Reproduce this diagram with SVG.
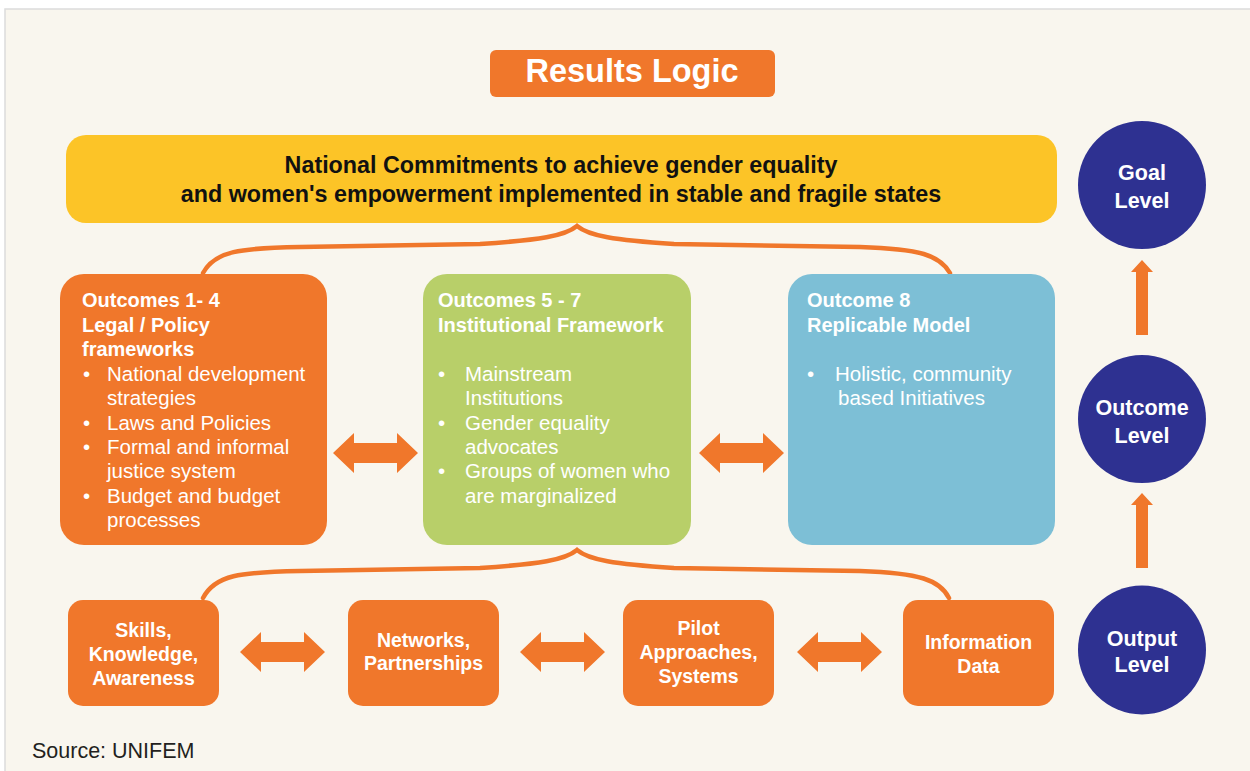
<svg xmlns="http://www.w3.org/2000/svg" width="1250" height="771" viewBox="0 0 1250 771">
<defs>
<style>
.bg{fill:#f9f6ee;stroke:#dcdcdc;stroke-width:1.5}
.org{fill:#f0772b}
.grn{fill:#b8cf69}
.blu{fill:#7dbfd6}
.yel{fill:#fcc427}
.navy{fill:#2e3191}
.t{font-family:"Liberation Sans",Arial,sans-serif;fill:#fff}
.b{font-weight:bold}
.hd{font-size:20px;font-weight:bold}
.bd{font-size:20.5px}
.sm{font-size:19.5px;font-weight:bold;text-anchor:middle}
.cir{font-size:21.5px;font-weight:bold;text-anchor:middle}
.brace{fill:none;stroke:#f0772b;stroke-width:4.5;stroke-linecap:round}
.arr{fill:#f0772b}
</style>
<path id="dbl" d="M0 0 L21 -20 L21 -10 L64 -10 L64 -20 L85 0 L64 20 L64 10 L21 10 L21 20 Z"/>
<path id="up" d="M0 0 L11 12 L6 12 L6 75 L-6 75 L-6 12 L-11 12 Z"/>
</defs>
<rect class="bg" x="5" y="9" width="1250" height="770"/>

<g id="title">
<rect class="org" x="490" y="50" width="285" height="47" rx="6"/>
<text class="t b" x="632" y="82" font-size="32.5" text-anchor="middle">Results Logic</text>
</g>

<g id="goal-box">
<rect class="yel" x="66" y="135" width="991" height="88" rx="20"/>
<text x="561" y="173" font-family="Liberation Sans,Arial,sans-serif" font-weight="bold" font-size="23.3" fill="#111" text-anchor="middle">National Commitments to achieve gender equality</text>
<text x="561" y="202" font-family="Liberation Sans,Arial,sans-serif" font-weight="bold" font-size="23.3" fill="#111" text-anchor="middle">and women's empowerment implemented in stable and fragile states</text>
</g>

<g id="connectors">
<path class="brace" d="M203 273 C215 251 240 248 300 247 L480 244 C540 240 565 236 577 226 C589 236 614 240 674 244 L860 247 C920 249 940 255 950 273"/>
<path class="brace" d="M203 598 C215 575 240 572 300 571 L480 568 C540 564 565 560 577 550 C589 560 614 564 674 568 L860 571 C920 573 940 580 949 598"/>
<use href="#dbl" class="arr" x="333" y="453"/>
<use href="#dbl" class="arr" x="699" y="453"/>
<use href="#dbl" class="arr" x="240" y="652"/>
<use href="#dbl" class="arr" x="520" y="652"/>
<use href="#dbl" class="arr" x="797" y="652"/>
<use href="#up" class="arr" x="1142" y="260"/>
<use href="#up" class="arr" x="1142" y="493"/>
</g>

<g id="outcomes-1-4">
<rect class="org" x="60" y="274" width="267" height="271" rx="24"/>
<text class="t hd" x="82" y="307">Outcomes 1- 4</text>
<text class="t hd" x="82" y="332">Legal / Policy</text>
<text class="t hd" x="82" y="356">frameworks</text>
<g class="t bd">
<text x="83" y="381">•</text><text x="107" y="381">National development</text>
<text x="107" y="405">strategies</text>
<text x="83" y="430">•</text><text x="107" y="430">Laws and Policies</text>
<text x="83" y="454">•</text><text x="107" y="454">Formal and informal</text>
<text x="107" y="478">justice system</text>
<text x="83" y="503">•</text><text x="107" y="503">Budget and budget</text>
<text x="107" y="527">processes</text>
</g>
</g>

<g id="outcomes-5-7">
<rect class="grn" x="423" y="274" width="268" height="271" rx="24"/>
<text class="t hd" x="438" y="307">Outcomes 5 - 7</text>
<text class="t hd" x="438" y="332">Institutional Framework</text>
<g class="t bd">
<text x="438" y="381">•</text><text x="465" y="381">Mainstream</text>
<text x="465" y="405">Institutions</text>
<text x="438" y="430">•</text><text x="465" y="430">Gender equality</text>
<text x="465" y="454">advocates</text>
<text x="438" y="478">•</text><text x="465" y="478">Groups of women who</text>
<text x="465" y="503">are marginalized</text>
</g>
</g>

<g id="outcome-8">
<rect class="blu" x="788" y="274" width="267" height="271" rx="24"/>
<text class="t hd" x="807" y="307">Outcome 8</text>
<text class="t hd" x="807" y="332">Replicable Model</text>
<g class="t bd">
<text x="807" y="381">•</text><text x="835" y="381">Holistic, community</text>
<text x="838" y="405">based Initiatives</text>
</g>
</g>

<g id="skills">
<rect class="org" x="68" y="600" width="151" height="106" rx="15"/>
<text class="t sm" x="143.5" y="637">Skills,</text>
<text class="t sm" x="143.5" y="661">Knowledge,</text>
<text class="t sm" x="143.5" y="685">Awareness</text>
</g>
<g id="networks">
<rect class="org" x="348" y="600" width="151" height="106" rx="15"/>
<text class="t sm" x="423.5" y="647">Networks,</text>
<text class="t sm" x="423.5" y="670">Partnerships</text>
</g>
<g id="pilot">
<rect class="org" x="623" y="600" width="151" height="106" rx="15"/>
<text class="t sm" x="698.5" y="635">Pilot</text>
<text class="t sm" x="698.5" y="659">Approaches,</text>
<text class="t sm" x="698.5" y="683">Systems</text>
</g>
<g id="information">
<rect class="org" x="903" y="600" width="151" height="106" rx="15"/>
<text class="t sm" x="978.5" y="649">Information</text>
<text class="t sm" x="978.5" y="673">Data</text>
</g>

<g id="goal-level">
<circle class="navy" cx="1142" cy="185" r="64"/>
<text class="t cir" x="1142" y="180">Goal</text>
<text class="t cir" x="1142" y="208">Level</text>
</g>
<g id="outcome-level">
<circle class="navy" cx="1142" cy="419" r="64"/>
<text class="t cir" x="1142" y="415">Outcome</text>
<text class="t cir" x="1142" y="443">Level</text>
</g>
<g id="output-level">
<ellipse class="navy" cx="1142" cy="650" rx="64" ry="64.5"/>
<text class="t cir" x="1142" y="646">Output</text>
<text class="t cir" x="1142" y="672">Level</text>
</g>

<text x="32" y="758" font-family="Liberation Sans,Arial,sans-serif" font-size="21.5" fill="#231f20">Source: UNIFEM</text>
</svg>
